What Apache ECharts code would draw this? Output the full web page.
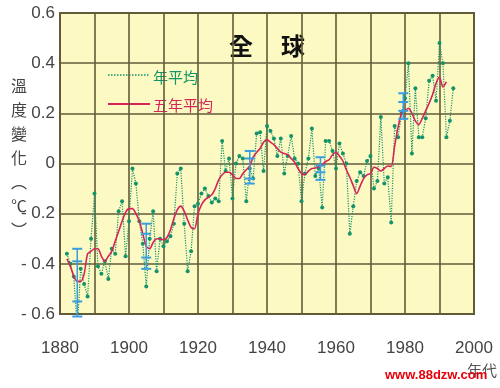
<!DOCTYPE html>
<html><head><meta charset="utf-8">
<script src="https://cdn.jsdelivr.net/npm/echarts@6/dist/echarts.min.js"></script>
<style>html,body{margin:0;padding:0;background:#fff}#c{width:500px;height:388px}</style>
</head><body><div id="c"></div>
<script>
// Annual mean temperature anomaly (年平均)
const annualYears = [1882,1883,1884,1885,1886,1887,1888,1889,1890,1891,1892,1893,1894,1895,1896,1897,1898,1899,
  1900,1901,1902,1903,1904,1905,1906,1907,1908,1909,1910,1911,1912,1913,1914,1915,1916,1917,1918,1919,
  1920,1921,1922,1923,1924,1925,1926,1927,1928,1929,1930,1931,1932,1933,1934,1935,1936,1937,1938,1939,
  1940,1941,1942,1943,1944,1945,1946,1947,1948,1949,1950,1951,1952,1953,1954,1955,1956,1957,1958,1959,
  1960,1961,1962,1963,1964,1965,1966,1967,1968,1969,1970,1971,1972,1973,1974,1975,1976,1977,1978,1979,
  1980,1981,1982,1983,1984,1985,1986,1987,1988,1989,1990,1991,1992,1993,1994];
const annualTemps = [-0.36,-0.40,-0.45,-0.66,-0.42,-0.48,-0.53,-0.30,-0.12,-0.41,-0.44,-0.39,-0.46,-0.34,-0.36,-0.19,-0.15,-0.37,
  -0.23,-0.02,-0.08,-0.23,-0.32,-0.49,-0.30,-0.19,-0.43,-0.30,-0.33,-0.31,-0.29,-0.24,-0.04,-0.02,-0.24,-0.43,-0.35,-0.17,
  -0.16,-0.12,-0.10,-0.13,-0.155,-0.14,-0.15,0.09,-0.03,0.02,-0.14,0.00,0.03,0.02,-0.15,-0.02,-0.06,0.12,0.125,-0.03,
  0.15,0.13,0.10,0.03,0.10,-0.04,0.03,0.11,0.02,0.00,-0.15,-0.04,0.02,0.14,-0.05,-0.02,-0.175,0.09,0.09,0.05,
  -0.02,0.08,0.04,0.00,-0.28,-0.17,-0.07,-0.035,-0.05,0.01,0.03,-0.10,-0.07,0.185,-0.08,-0.055,-0.235,0.15,0.105,0.20,
  0.26,0.40,0.04,0.30,0.105,0.105,0.18,0.33,0.35,0.25,0.48,0.40,0.105,0.17,0.30];

// Five-year running mean (五年平均)
const fiveYearYears = [1882,1883,1884,1885,1886,1887,1888,1889,1890,1891,1892,1893,1894,1895,1896,1897,1898,1899,
  1900,1901,1902,1903,1904,1905,1906,1907,1908,1909,1910,1911,1912,1913,1914,1915,1916,1917,1918,1919,
  1920,1921,1922,1923,1924,1925,1926,1927,1928,1929,1930,1931,1932,1933,1934,1935,1936,1937,1938,1939,
  1940,1941,1942,1943,1944,1945,1946,1947,1948,1949,1950,1951,1952,1953,1954,1955,1956,1957,1958,1959,
  1960,1961,1962,1963,1964,1965,1966,1967,1968,1969,1970,1971,1972,1973,1974,1975,1976,1977,1978,1979,
  1980,1981,1982,1983,1984,1985,1986,1987,1988,1989,1990,1991,1992];
const fiveYearTemps = [-0.38,-0.41,-0.45,-0.47,-0.47,-0.44,-0.36,-0.35,-0.34,-0.34,-0.37,-0.39,-0.37,-0.35,-0.31,-0.27,-0.23,-0.195,
  -0.18,-0.18,-0.20,-0.23,-0.28,-0.33,-0.34,-0.315,-0.30,-0.30,-0.305,-0.295,-0.265,-0.22,-0.185,-0.17,-0.19,-0.225,-0.255,-0.26,
  -0.20,-0.165,-0.145,-0.135,-0.125,-0.10,-0.065,-0.045,-0.035,-0.035,-0.045,-0.06,-0.06,-0.04,-0.025,-0.01,0.025,0.045,0.06,0.085,
  0.095,0.085,0.075,0.06,0.045,0.04,0.035,0.02,0.005,-0.02,-0.04,-0.044,-0.03,-0.02,-0.018,-0.012,-0.005,0.008,0.015,0.035,
  0.045,0.03,0.01,-0.025,-0.055,-0.088,-0.12,-0.09,-0.06,-0.045,-0.04,-0.015,-0.02,-0.03,-0.02,-0.01,-0.012,0.07,0.145,0.2,
  0.21,0.22,0.20,0.17,0.155,0.18,0.21,0.24,0.275,0.32,0.345,0.305,0.325];

// Uncertainty bars: year, then the values at which the bar has caps
const errorBarYears = [1885, 1905, 1935, 1955.5, 1979.5];
const errorBarCaps = [
  [-0.34, -0.39, -0.55, -0.61],
  [-0.24, -0.28, -0.375, -0.42],
  [0.05, 0.02, -0.06, -0.08],
  [0.025, -0.008, -0.035, -0.065],
  [0.28, 0.245, 0.21, 0.178, 0.145]
];

const xTicks = [1880, 1900, 1920, 1940, 1960, 1980, 2000];
const yTicks = [-0.6, -0.4, -0.2, 0, 0.2, 0.4, 0.6];

const GREEN = '#14936a';
const RED = '#d4245a';
const BLUE = '#3a9de0';
const GRIDC = '#625b38';
const NUMFONT = '"Liberation Sans Narrow","Liberation Sans",Arial,sans-serif';
const CJK = '"Noto Sans CJK TC","Noto Sans CJK SC",sans-serif';

const annualData = annualYears.map((y, i) => [y, annualTemps[i]]);
const fiveData = fiveYearYears.map((y, i) => [y, fiveYearTemps[i]]);
const errData = errorBarYears.map((y, i) => [y].concat(errorBarCaps[i]));

const chart = echarts.init(document.getElementById('c'), null, {renderer: 'canvas'});
chart.setOption({
  animation: false,
  backgroundColor: '#ffffff',
  grid: {left: 60, right: 26, top: 13, bottom: 74, show: true,
    backgroundColor: '#fcfac2', borderColor: GRIDC, borderWidth: 2},
  xAxis: {
    type: 'value', min: 1880, max: 2000, interval: 10,
    axisLine: {show: false}, axisTick: {show: false},
    splitLine: {show: true, lineStyle: {color: GRIDC, width: 1.6}},
    axisLabel: {
      margin: 26, color: '#444', fontSize: 17, fontFamily: NUMFONT,
      formatter: v => xTicks.indexOf(v) >= 0 ? String(v) : ''
    }
  },
  yAxis: {
    type: 'value', min: -0.6, max: 0.6, interval: 0.2,
    axisLine: {show: false}, axisTick: {show: false},
    splitLine: {show: true, lineStyle: {color: GRIDC, width: 1.6}},
    axisLabel: {
      margin: 5, color: '#444', fontSize: 17, fontFamily: NUMFONT,
      formatter: v => {
        const t = yTicks.find(k => Math.abs(k - v) < 1e-6);
        if (t === undefined) return '';
        if (t === 0) return '0';
        return t < 0 ? '- ' + Math.abs(t).toFixed(1) : t.toFixed(1);
      }
    }
  },
  series: [
    {
      name: '年平均', type: 'line', data: annualData, z: 2,
      symbol: 'circle', symbolSize: 4,
      itemStyle: {color: GREEN},
      lineStyle: {color: GREEN, width: 1.2, type: [1.2, 1.3]}
    },
    {
      name: '五年平均', type: 'line', data: fiveData, z: 3,
      symbol: 'none', smooth: 0.25,
      lineStyle: {color: RED, width: 1.6}
    },
    {
      name: 'err', type: 'custom', data: errData, z: 4,
      renderItem: function (params, api) {
        const yr = api.value(0);
        const vals = [];
        for (let k = 1; k <= 5; k++) {
          const v = api.value(k);
          if (typeof v === 'number' && !isNaN(v)) vals.push(v);
        }
        const hi = Math.max.apply(null, vals), lo = Math.min.apply(null, vals);
        const p1 = api.coord([yr, hi]), p2 = api.coord([yr, lo]);
        const children = [{
          type: 'line', shape: {x1: p1[0], y1: p1[1], x2: p2[0], y2: p2[1]},
          style: {stroke: BLUE, lineWidth: 1.5}
        }];
        vals.forEach(v => {
          const p = api.coord([yr, v]);
          children.push({type: 'line', shape: {x1: p[0] - 5, y1: p[1], x2: p[0] + 5, y2: p[1]},
            style: {stroke: BLUE, lineWidth: 2}});
        });
        return {type: 'group', children: children};
      }
    }
  ],
  graphic: [
    {type: 'text', left: 229, top: 34, style: {text: '全', fill: '#111', font: 'bold 24px ' + CJK}},
    {type: 'text', left: 281, top: 34, style: {text: '球', fill: '#111', font: 'bold 24px ' + CJK}},
    {type: 'line', shape: {x1: 108, y1: 75, x2: 150, y2: 75}, style: {stroke: GREEN, lineWidth: 1.5, lineDash: [1.5, 1.5]}},
    {type: 'text', x: 153, y: 77, style: {text: '年平均', fill: GREEN, font: '15px ' + CJK, verticalAlign: 'middle'}},
    {type: 'line', shape: {x1: 108, y1: 104, x2: 150, y2: 104}, style: {stroke: RED, lineWidth: 2}},
    {type: 'text', x: 153, y: 105, style: {text: '五年平均', fill: RED, font: '15px ' + CJK, verticalAlign: 'middle'}},
    {type: 'text', x: 19, y: 74, style: {text: '溫\n度\n變\n化\n︵\n℃\n︶', fill: '#444', font: '16px ' + CJK, align: 'center', lineHeight: 24}},
    {type: 'text', x: 467, y: 363, style: {text: '年代', fill: '#555', font: '15px ' + CJK}},
    {type: 'text', x: 385, y: 369, style: {text: 'www.88dzw.com', fill: '#e8000a', font: 'bold 13px "Liberation Sans",Arial,sans-serif'}}
  ]
});
</script>
</body></html>
